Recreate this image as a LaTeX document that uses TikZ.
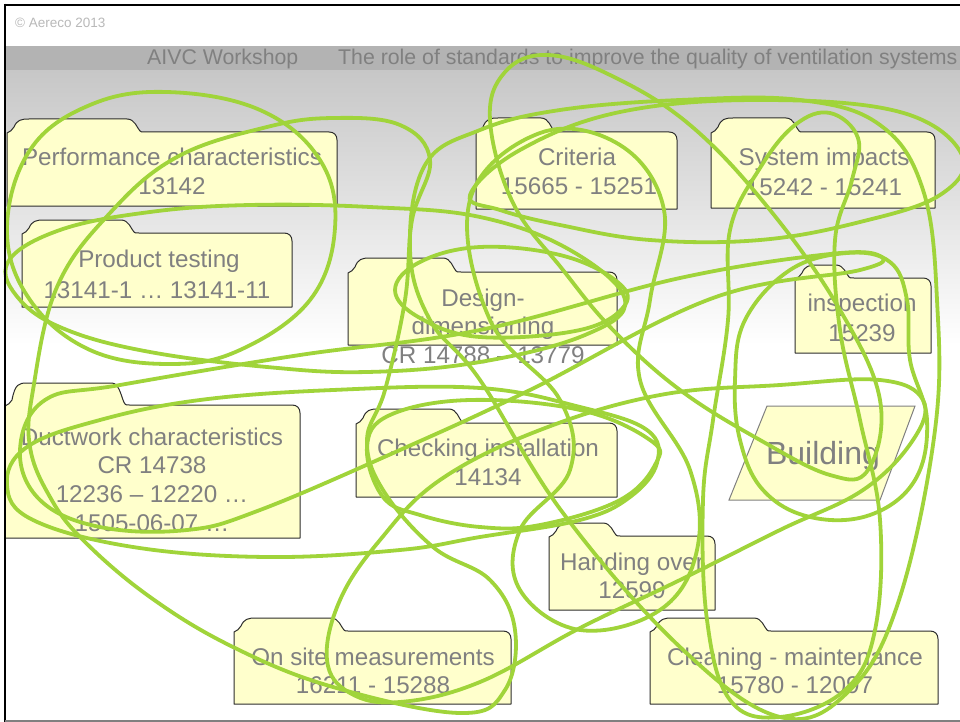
\documentclass[tikz,border=0pt]{standalone}
\usepackage{fontspec}
\setmainfont{Liberation Sans}
\definecolor{bandgray}{RGB}{179,179,179}
\definecolor{topgray}{RGB}{199,199,199}
\definecolor{txtgray}{RGB}{128,128,128}
\definecolor{cpgray}{RGB}{185,185,185}
\definecolor{folderfill}{RGB}{255,255,204}
\definecolor{folderline}{RGB}{45,45,45}
\definecolor{loopgreen}{RGB}{160,212,58}
\tikzset{
  folder/.style={fill=folderfill, draw=folderline, line width=1pt, line join=round},
  ftxt/.style={font=\fontsize{24.2}{28}\selectfont, text=txtgray, anchor=base, inner sep=0pt},
  htxt/.style={font=\fontsize{21.3}{24}\selectfont, text=txtgray, anchor=base west, inner sep=0pt},
  greenloop/.style={draw=loopgreen, line width=3.8pt, line join=round},
}
% #1 x1, #2 tab top, #3 body top, #4 x2, #5 bottom, #6 tab end
\newcommand{\fldr}[6]{%
  \draw[folder] (#1,#3+1) .. controls (#1+3,#3) and (#1+5,#3-2) .. (#1+7,#3-5)
    .. controls (#1+10,#2+1) and (#1+14,#2) .. (#1+22,#2) -- (#6-16,#2)
    .. controls (#6-8,#2) and (#6-6,#3-4) .. (#6-3,#3-1)
    .. controls (#6-2,#3) .. (#6+2,#3) -- (#4-8,#3)
    .. controls (#4-3,#3) and (#4,#3+3) .. (#4,#3+8) -- (#4,#5) -- (#1,#5) -- cycle;}
\begin{document}
\begin{tikzpicture}[x=1pt,y=-1pt]
\useasboundingbox (0,0) rectangle (960,722);
\fill[white] (0,0) rectangle (960,722);
% header band and gradient
\shade[top color=topgray, bottom color=white] (5,70) rectangle (960,345);
\fill[bandgray] (5,46) rectangle (960,70);
\node[anchor=base west, inner sep=0pt, font=\fontsize{13.5}{15}\selectfont, text=cpgray] (copy) at (15,28) {© Aereco 2013};
\node[htxt] (aivc) at (147,65) {AIVC Workshop};
\node[htxt] (title) at (338,65) {The role of standards to improve the quality of ventilation systems};
% folders
\fldr{7}{119}{132}{337}{206}{143}
\fldr{22}{220}{233}{292}{307}{137}
\fldr{476}{118}{132}{677}{209}{557}
\fldr{711}{118}{132}{935}{208}{802}
\fldr{348}{258}{272}{617}{345}{459}
\fldr{795}{265}{278}{931}{353}{852}
\fldr{5}{383}{405}{300}{538}{128}
\fldr{356}{409}{423}{617}{497}{465}
\fldr{549}{523}{536}{715}{610}{619}
\fldr{234}{618}{631}{511}{704}{347}
\fldr{650}{618}{631}{938}{704}{770}
\draw[fill=folderfill, draw=txtgray, line width=1pt] (729,500) -- (767,406) -- (915,406) -- (880,500) -- cycle;
% texts
\node[ftxt] (perfA) at (172,165) {Performance characteristics};
\node[ftxt] (perfB) at (172,194) {13142};
\node[ftxt] (prodA) at (159,267) {Product testing};
\node[ftxt] (prodB) at (157,298) {13141-1 … 13141-11};
\node[ftxt] (critA) at (577,165) {Criteria};
\node[ftxt] (critB) at (579,194) {15665 - 15251};
\node[ftxt] (sysA) at (824,166) {System impacts};
\node[ftxt] (sysB) at (824,195) {15242 - 15241};
\node[ftxt] (desA) at (483,306) {Design-};
\node[ftxt] (desB) at (483,334) {dimensioning};
\node[ftxt] (desC) at (483,363) {CR 14788 – 13779};
\node[ftxt] (inspA) at (862,311) {inspection};
\node[ftxt] (inspB) at (862,341) {15239};
\node[ftxt] (ductA) at (152,445) {Ductwork characteristics};
\node[ftxt] (ductB) at (152,473) {CR 14738};
\node[ftxt] (ductC) at (152,502) {12236 – 12220 …};
\node[ftxt] (ductD) at (152,531) {1505-06-07 …};
\node[ftxt] (checkA) at (488,456) {Checking installation};
\node[ftxt] (checkB) at (488,485) {14134};
\node[ftxt] (handA) at (632,570) {Handing over};
\node[ftxt] (handB) at (632,598) {12599};
\node[ftxt] (siteA) at (373,665) {On site measurements};
\node[ftxt] (siteB) at (373,693) {16211 - 15288};
\node[ftxt] (cleanA) at (795,665) {Cleaning - maintenance};
\node[ftxt] (cleanB) at (795,693) {15780 - 12097};
\node[anchor=base, inner sep=0pt, font=\fontsize{32}{34}\selectfont, text=txtgray] (building) at (823,464) {Building};
% green hand-drawn loops
\begin{scope}[greenloop]
\draw plot[smooth cycle, tension=0.65] coordinates {(167,92) (260,110) (320,160) (335,228) (310,300) (240,350) (170,364) (90,350) (30,300) (7,230) (30,150) (90,105)};
\draw plot[smooth cycle, tension=0.65] coordinates {(8,262) (60,230) (150,212) (250,205) (370,207) (480,217) (570,250) (625,300) (585,335) (480,362) (367,372) (267,367) (150,352) (67,330) (20,300)};
\draw plot[smooth cycle, tension=0.65] coordinates {(395,290) (420,262) (480,247) (560,255) (615,280) (625,305) (580,330) (480,337) (420,318)};
\draw plot[smooth cycle, tension=0.65] coordinates {(7,485) (27,447) (100,420) (200,400) (333,390) (480,388) (580,407) (647,430) (657,463) (630,497) (580,520) (480,537) (400,550) (267,557) (133,547) (33,520)};
\draw plot[smooth cycle, tension=0.65] coordinates {(20,450) (45,400) (120,385) (300,355) (480,330) (680,278) (830,254) (880,256) (860,270) (713,298) (530,390) (400,450) (260,510) (187,530) (100,527) (40,500)};
\draw plot[smooth cycle, tension=0.65] coordinates {(847,253) (890,262) (907,300) (910,360) (927,420) (915,480) (870,515) (810,517) (763,490) (740,440) (735,380) (745,320) (790,270)};
\draw plot[smooth cycle, tension=0.65] coordinates {(470,195) (520,150) (620,112) (760,100) (900,112) (962,155) (940,195) (860,222) (760,240) (650,240) (560,225) (500,210)};
\draw plot[smooth cycle, tension=0.65] coordinates {(760,168) (795,125) (830,113) (858,138) (852,180) (835,240) (840,330) (860,420) (880,520) (875,630) (845,690) (780,717) (730,700) (707,620) (703,500) (713,420) (728,320) (730,230)};
\draw plot[smooth cycle, tension=0.65] coordinates {(490,120) (505,72) (547,55) (610,75) (690,125) (770,210) (840,310) (880,400) (868,470) (830,475) (760,440) (680,390) (613,330) (563,270) (513,203)};
\draw plot[smooth cycle, tension=0.65] coordinates {(480,130) (425,165) (410,250) (430,320) (480,380) (563,513) (680,647) (780,717) (850,690) (899,600) (935,430) (937,300) (923,190) (880,125) (800,100) (680,100) (560,110)};
\draw plot[smooth cycle, tension=0.65] coordinates {(470,200) (540,133) (620,145) (664,210) (650,300) (640,380) (690,470) (697,550) (660,610) (580,630) (520,590) (520,530) (570,470) (560,400) (490,320)};
\draw plot[smooth cycle, tension=0.65] coordinates {(327,660) (340,600) (380,540) (440,480) (540,430) (660,395) (780,385) (880,380) (923,400) (913,440) (863,490) (780,530) (680,580) (580,628) (480,682) (400,702) (350,693)};
\draw plot[smooth cycle, tension=0.65] coordinates {(177,157) (267,127) (333,118) (400,125) (430,160) (412,220) (405,300) (385,390) (367,440) (383,490) (433,547) (490,580) (515,630) (505,690) (460,713) (333,687) (233,647) (150,597) (83,540) (50,497) (30,447) (33,390) (57,287) (110,213)};
\draw plot[smooth cycle, tension=0.65] coordinates {(367,447) (390,415) (470,400) (580,410) (650,440) (656,463) (620,500) (540,525) (480,527) (420,515) (383,497)};
\end{scope}
% frame
\draw[black, line width=2.5pt] (3.75,5) -- (960,5);
\draw[black, line width=2.5pt] (5,3.75) -- (5,722);
\draw[gray, line width=1.5pt] (5,721) -- (960,721);
\end{tikzpicture}
\end{document}
